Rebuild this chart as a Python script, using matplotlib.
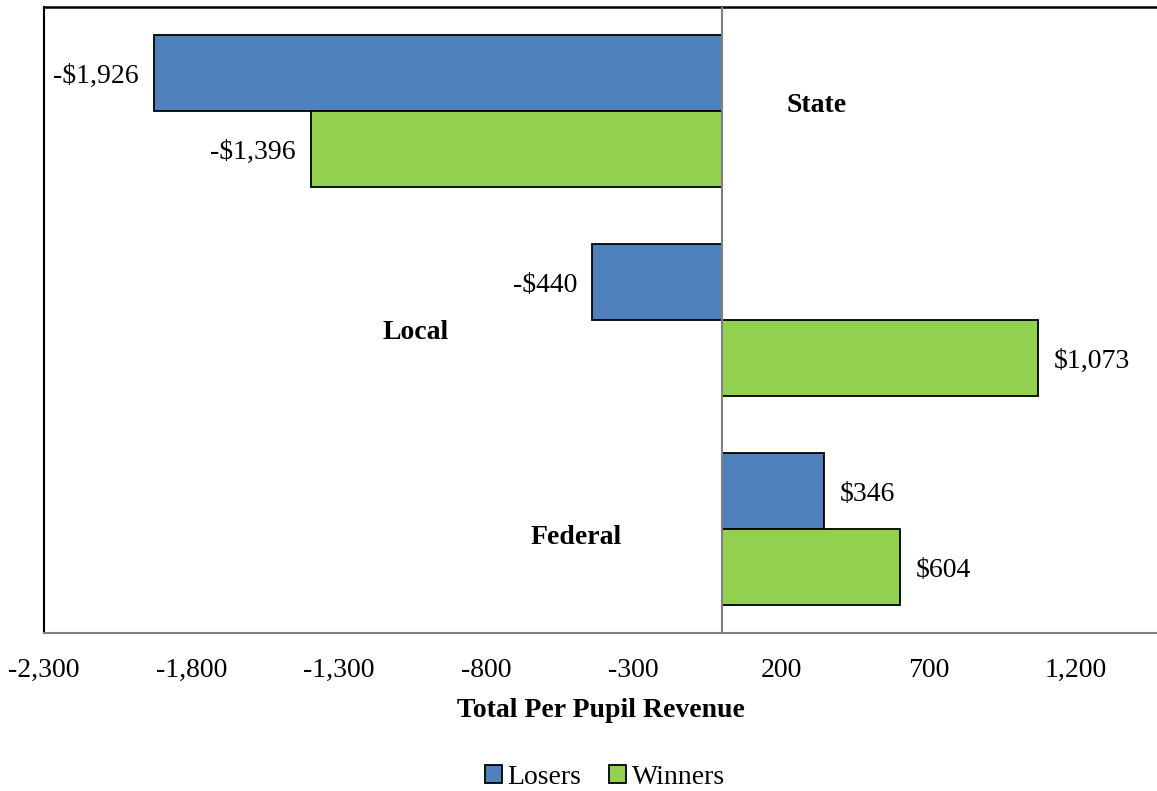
import matplotlib
matplotlib.use("Agg")
import matplotlib.pyplot as plt
import numpy as np

# Revenue change per pupil by source
categories = ["State", "Local", "Federal"]
losers = [-1926, -440, 346]
winners = [-1396, 1073, 604]
series_names = ["Losers", "Winners"]
x_ticks = [-2300, -1800, -1300, -800, -300, 200, 700, 1200]

# Category label anchors (data x, category offset)
cat_label_x = [322, -1041, -495]
cat_label_dy = [-0.03, 0.06, 0.04]

plt.rcParams["font.family"] = ["Liberation Serif", "DejaVu Serif"]

fig = plt.figure(figsize=(11.57, 7.91), dpi=100)
ax = fig.add_axes([44 / 1157, 1 - 633 / 791, 1 - 44 / 1157, (633 - 7) / 791])

blue = "#4F81BD"
green = "#92D050"
h = 0.365
y = np.arange(len(categories))

b1 = ax.barh(y - h / 2, losers, height=h, color=blue, edgecolor="black",
             linewidth=1.3, label=series_names[0], zorder=2)
b2 = ax.barh(y + h / 2, winners, height=h, color=green, edgecolor="black",
             linewidth=1.3, label=series_names[1], zorder=2)


def money(v):
    s = "${:,.0f}".format(abs(v))
    return "-" + s if v < 0 else s


for offset, vals in ((-h / 2, losers), (h / 2, winners)):
    for yy, v in zip(y, vals):
        sign = 1 if v >= 0 else -1
        ax.annotate(money(v), xy=(v, yy + offset), xytext=(sign * 11, -2.5),
                    textcoords="offset points", fontsize=20, va="center",
                    ha="left" if sign > 0 else "right")

for cx, dy, yy, name in zip(cat_label_x, cat_label_dy, y, categories):
    ax.text(cx, yy + dy, name, ha="center", va="center", fontsize=20,
            fontweight="bold")

ax.axvline(0, color="#808080", linewidth=1.5, zorder=3)

ax.set_xlim(-2300, 1475)
ax.set_ylim(2.5, -0.5)
ax.set_xticks(x_ticks)
ax.set_xticklabels(["{:,}".format(t) for t in x_ticks], fontsize=20)
ax.tick_params(axis="x", length=0, pad=18)
ax.set_yticks([])

ax.spines["right"].set_visible(False)
ax.spines["left"].set_color("black")
ax.spines["top"].set_color("black")
ax.spines["left"].set_linewidth(1.5)
ax.spines["top"].set_linewidth(1.8)
ax.spines["bottom"].set_color("#808080")
ax.spines["bottom"].set_linewidth(1.5)

ax.set_xlabel("Total Per Pupil Revenue", fontsize=20, fontweight="bold",
              labelpad=11)

fig.legend(handles=[b1, b2], labels=series_names, loc="center",
           bbox_to_anchor=(605 / 1157, 1 - 777 / 791), ncol=2, frameon=False,
           fontsize=20, handlelength=0.6, handleheight=0.6, handletextpad=0.2,
           columnspacing=1.0, borderaxespad=0)

fig.savefig("out.png", dpi=100)
